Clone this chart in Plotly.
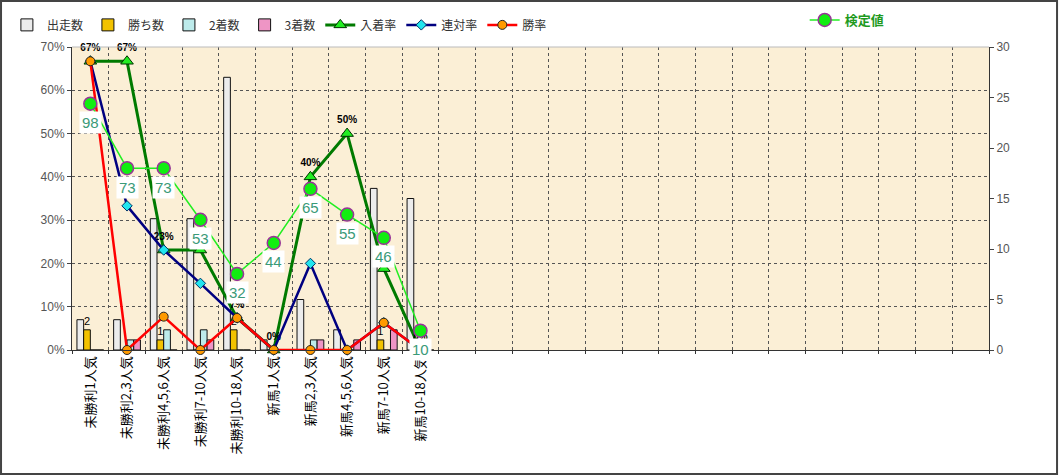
import plotly.graph_objects as go

categories = ["未勝利1人気", "未勝利2,3人気", "未勝利4,5,6人気", "未勝利7-10人気", "未勝利10-18人気",
              "新馬1人気", "新馬2,3人気", "新馬4,5,6人気", "新馬7-10人気", "新馬10-18人気"]
n_slots = 25  # the category axis has 25 slots, only the first 10 are used

starters = [3, 3, 13, 13, 27, 1, 5, 2, 16, 15]   # 出走数
wins = [2, 0, 1, 0, 2, 0, 0, 0, 1, 0]            # 勝ち数
seconds = [0, 1, 2, 2, 0, 0, 1, 0, 0, 0]         # 2着数
thirds = [0, 1, 0, 1, 0, 0, 1, 1, 2, 0]          # 3着数

place_rate = [0.667, 0.667, 0.231, 0.231, 0.074, 0.0, 0.40, 0.50, 0.188, 0.0]   # 入着率
quin_rate = [0.667, 0.333, 0.231, 0.154, 0.074, 0.0, 0.20, 0.0, 0.063, 0.0]     # 連対率
win_rate = [0.667, 0.0, 0.077, 0.0, 0.074, 0.0, 0.0, 0.0, 0.063, 0.0]           # 勝率

test_values = [98, 73, 73, 53, 32, 44, 65, 55, 46, 10]  # 検定値

x = list(range(len(categories)))
JP = "Noto Sans CJK JP, Liberation Sans, sans-serif"

fig = go.Figure()

bar_specs = [
    ("出走数", starters, "#ECECEC", None),
    ("勝ち数", wins, "#F2C200", [str(v) if v else "" for v in wins]),
    ("2着数", seconds, "#BDEBEB", None),
    ("3着数", thirds, "#EE95C5", None),
]
for name, vals, color, txt in bar_specs:
    fig.add_trace(go.Bar(
        x=x, y=vals, name=name, xaxis="x", yaxis="y",
        marker=dict(color=color, line=dict(color="#111111", width=1)),
        text=txt, textposition="outside" if txt else None, textangle=0,
        constraintext="none", cliponaxis=False,
        textfont=dict(size=11, color="black", family="Liberation Sans"),
        legend="legend",
    ))

fig.add_trace(go.Scatter(
    x=x, y=place_rate, name="入着率", xaxis="x", yaxis="y2", mode="lines+markers+text",
    line=dict(color="#007A00", width=3),
    marker=dict(symbol="triangle-up", size=11, color="#22EE22", line=dict(color="#003300", width=1)),
    texttemplate="<b>%{y:.0%}</b>", textposition="top center",
    textfont=dict(size=10, color="black", family="Liberation Sans"),
    cliponaxis=False, legend="legend",
))
fig.add_trace(go.Scatter(
    x=x, y=quin_rate, name="連対率", xaxis="x", yaxis="y2", mode="lines+markers",
    line=dict(color="#000080", width=2.5),
    marker=dict(symbol="diamond", size=8, color="#22E5EE", line=dict(color="#003366", width=1)),
    cliponaxis=False, legend="legend",
))
fig.add_trace(go.Scatter(
    x=x, y=win_rate, name="勝率", xaxis="x", yaxis="y2", mode="lines+markers",
    line=dict(color="#FF0000", width=2.5),
    marker=dict(symbol="circle", size=9, color="#FF9A00", line=dict(color="#222222", width=1)),
    cliponaxis=False, legend="legend",
))
fig.add_trace(go.Scatter(
    x=x, y=test_values, name="検定値", xaxis="x2", yaxis="y3", mode="lines+markers",
    line=dict(color="#22EE22", width=1.5),
    marker=dict(symbol="circle", size=13, color="#11EE11", line=dict(color="#993399", width=1.5)),
    cliponaxis=False, legend="legend2",
))

for xi, v in zip(x, test_values):
    fig.add_annotation(
        x=xi, y=v, xref="x2", yref="y3", text=str(v), showarrow=False,
        yshift=-19, bgcolor="white", borderpad=2,
        font=dict(size=15, color="#3A9A78", family="Liberation Sans"),
    )

# outer chart frame and light top border of the plot area
fig.add_shape(type="rect", xref="paper", yref="paper",
              x0=-0.0774, x1=1.0742, y0=-0.409, y1=1.152,
              line=dict(color="#444444", width=2))
fig.add_shape(type="line", xref="paper", yref="paper", x0=0, x1=1, y0=1, y1=1,
              line=dict(color="#BBBBBB", width=1))

fig.update_layout(
    width=1059, height=476,
    margin=dict(l=72, r=70, t=47, b=126, autoexpand=False),
    paper_bgcolor="white", plot_bgcolor="#FBEFD6",
    barmode="group", bargap=0.27, bargroupgap=0,
    font=dict(family=JP, size=12, color="#333333"),
    xaxis=dict(
        range=[-0.5, n_slots - 0.5], tickmode="array", tickvals=x, ticktext=categories,
        tickangle=-90, tickfont=dict(size=13, color="black", family=JP),
        showgrid=False, showline=True, linecolor="#333333", linewidth=1,
        ticks="", zeroline=False,
    ),
    xaxis2=dict(
        range=[-0.5, n_slots - 0.5], overlaying="x", side="bottom",
        tickmode="linear", tick0=0.5, dtick=1, showticklabels=False,
        showgrid=True, gridcolor="#555555", griddash="dot", gridwidth=1,
        ticks="outside", ticklen=3, tickcolor="#333333", zeroline=False, showline=False,
    ),
    yaxis=dict(
        range=[0, 30], dtick=5, side="right", showgrid=False, zeroline=False,
        showline=True, linecolor="#333333", linewidth=1, ticks="outside", ticklen=4,
        tickfont=dict(size=12, color="#555555", family="Liberation Sans"),
    ),
    yaxis2=dict(
        range=[0, 0.7], dtick=0.1, tickformat=".0%", side="left", overlaying="y",
        showgrid=True, gridcolor="#555555", griddash="dot", gridwidth=1, zeroline=False,
        showline=True, linecolor="#333333", linewidth=1, ticks="outside", ticklen=4,
        tickfont=dict(size=12, color="#555555", family="Liberation Sans"),
    ),
    yaxis3=dict(range=[2.5, 120], overlaying="y", anchor="x2", visible=False),
    legend=dict(orientation="h", x=-0.071, y=1.073, xanchor="left", yanchor="middle",
                font=dict(size=12, color="#333333", family=JP), bgcolor="rgba(0,0,0,0)",
                traceorder="normal", itemwidth=30),
    legend2=dict(orientation="h", x=0.799, y=1.089, xanchor="left", yanchor="middle",
                 font=dict(size=13, color="#1E9A1E", family=JP, weight="bold"),
                 bgcolor="rgba(0,0,0,0)"),
    showlegend=True,
)

fig.write_html("out.html", config={"displayModeBar": False},
               post_script="document.body.style.margin='0';")
